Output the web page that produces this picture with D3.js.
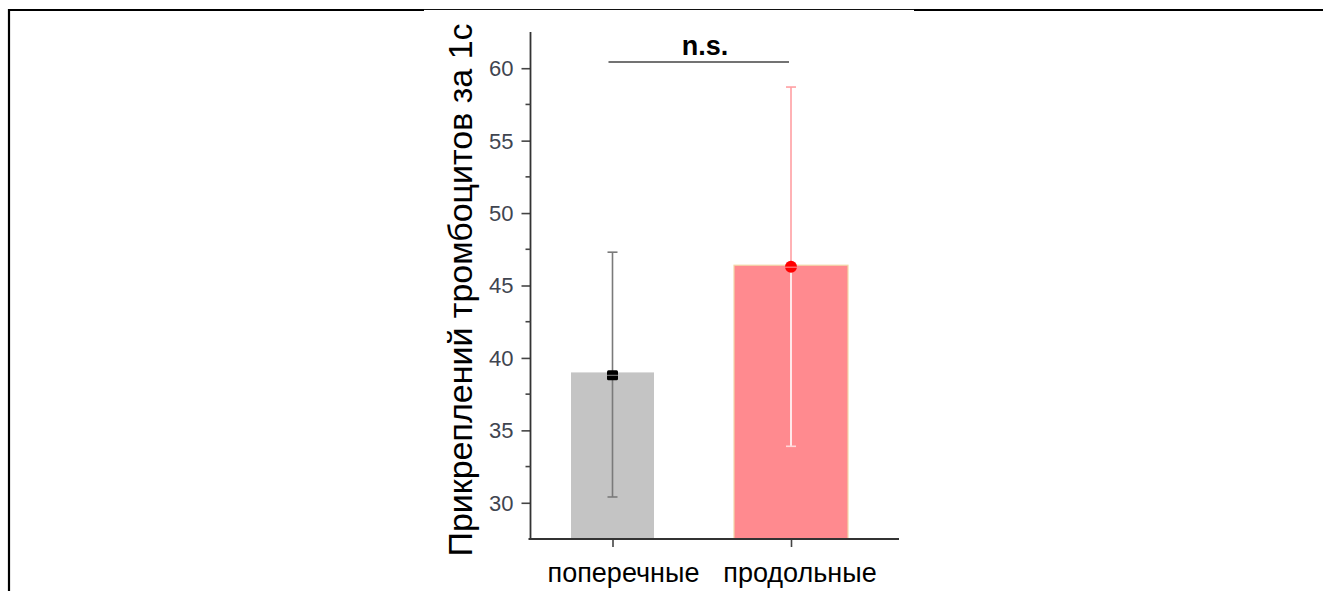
<!DOCTYPE html>
<html><head><meta charset="utf-8">
<script src="https://cdn.jsdelivr.net/npm/d3@7"></script>
<style>body{margin:0;background:#fff}svg{display:block}</style>
</head><body>
<svg id="c" width="1323" height="591"></svg>
<script>
const categories = ["поперечные", "продольные"];
const means = [39.0, 46.4];
const markerValues = [38.8, 46.3];
const errHigh = [47.3, 58.7];
const errLow = [30.4, 33.9];
const yTicks = [30, 35, 40, 45, 50, 55, 60];
const yLabel = "Прикреплений тромбоцитов за 1с";
const sigLabel = "n.s.";

const svg = d3.select("#c");
const font = "Liberation Sans, Arial, sans-serif";

// frame
svg.append("line").attr("x1", 8).attr("x2", 424).attr("y1", 10).attr("y2", 10).attr("stroke", "#000").attr("stroke-width", 2.2);
svg.append("line").attr("x1", 424).attr("x2", 914).attr("y1", 9.5).attr("y2", 9.5).attr("stroke", "#111").attr("stroke-width", 1);
svg.append("line").attr("x1", 914).attr("x2", 1323).attr("y1", 10).attr("y2", 10).attr("stroke", "#000").attr("stroke-width", 2.2);
svg.append("line").attr("x1", 9).attr("x2", 9).attr("y1", 9).attr("y2", 591).attr("stroke", "#000").attr("stroke-width", 2.2);

const y = d3.scaleLinear().domain([27.5, 62.5]).range([539, 32]);
const x = d3.scalePoint().domain(categories).range([612.5, 791]);
const barW = [83, 114];
const fills = ["#c4c4c4", "#ff8a8f"];
const errColors = ["#7a7a7a", "#ff9fa3"];

const axisX = 530.5;
// y axis
const yAxis = d3.axisLeft(y).tickValues(yTicks).tickSize(9).tickPadding(8).tickFormat(d3.format("d"));
const gy = svg.append("g").attr("transform", `translate(${axisX},0)`).call(yAxis);
gy.select(".domain").remove();
gy.append("line").attr("x1", 0).attr("x2", 0).attr("y1", y(62.5)).attr("y2", y(27.5)).attr("stroke", "#333").attr("stroke-width", 1.8);
gy.selectAll(".tick line").attr("stroke", "#444").attr("stroke-width", 1.6);
gy.selectAll(".tick text").attr("font-family", font).attr("font-size", 22).attr("fill", "#3f4550").attr("dy", "0.34em");
// minor ticks
const minor = d3.range(32.5, 62.5, 5);
gy.selectAll(".minor").data(minor).enter().append("line")
  .attr("x1", -5).attr("x2", 0).attr("y1", d => y(d)).attr("y2", d => y(d))
  .attr("stroke", "#444").attr("stroke-width", 1.6);

// bars
categories.forEach((c, i) => {
  svg.append("rect").attr("x", x(c) - barW[i] / 2).attr("width", barW[i])
    .attr("y", y(means[i])).attr("height", y(27.5) - y(means[i]))
    .attr("fill", fills[i])
    .attr("stroke", i === 1 ? "#f3d7a8" : "none").attr("stroke-width", 1.2);
});

// error bars
categories.forEach((c, i) => {
  const cx = x(c);
  const col = errColors[i];
  const innerCol = i === 1 ? "#ffffff" : col;
  svg.append("line").attr("x1", cx).attr("x2", cx).attr("y1", y(errHigh[i])).attr("y2", y(means[i])).attr("stroke", col).attr("stroke-width", 1.6);
  svg.append("line").attr("x1", cx).attr("x2", cx).attr("y1", y(means[i])).attr("y2", y(errLow[i])).attr("stroke", innerCol).attr("stroke-width", 1.6);
  svg.append("line").attr("x1", cx - 5).attr("x2", cx + 5).attr("y1", y(errHigh[i])).attr("y2", y(errHigh[i])).attr("stroke", col).attr("stroke-width", 1.6);
  svg.append("line").attr("x1", cx - 5).attr("x2", cx + 5).attr("y1", y(errLow[i])).attr("y2", y(errLow[i])).attr("stroke", i === 1 ? "#ffd6d8" : col).attr("stroke-width", 1.6);
});

// markers
{
  const cx = x(categories[0]), cy = y(markerValues[0]);
  svg.append("rect").attr("x", cx - 5.5).attr("y", cy - 5).attr("width", 11).attr("height", 10).attr("rx", 1.5).attr("fill", "#000");
  svg.append("line").attr("x1", cx - 5.5).attr("x2", cx + 5.5).attr("y1", cy).attr("y2", cy).attr("stroke", "#888").attr("stroke-width", 1);
}
{
  const cx = x(categories[1]), cy = y(markerValues[1]);
  svg.append("circle").attr("cx", cx).attr("cy", cy).attr("r", 6).attr("fill", "#ff0000");
  svg.append("line").attr("x1", cx - 6).attr("x2", cx + 6).attr("y1", cy + 0.5).attr("y2", cy + 0.5).attr("stroke", "#ff9a9a").attr("stroke-width", 1);
}

// x axis
const xAxis = d3.axisBottom(x).tickSize(8).tickFormat("");
const gx = svg.append("g").attr("transform", `translate(0,${y(27.5)})`).call(xAxis);
gx.select(".domain").remove();
gx.append("line").attr("x1", axisX - 2).attr("x2", 899).attr("y1", 0).attr("y2", 0).attr("stroke", "#333").attr("stroke-width", 1.8);
gx.selectAll(".tick line").attr("stroke", "#444").attr("stroke-width", 1.6);
const labelOffsets = [11, 9];
categories.forEach((c, i) => {
  svg.append("text").attr("x", x(c) + labelOffsets[i]).attr("y", 582)
    .attr("text-anchor", "middle").attr("font-family", font).attr("font-size", 27).attr("fill", "#000").text(c);
});

// y label
svg.append("text").attr("transform", `translate(472,290) rotate(-90)`)
  .attr("text-anchor", "middle").attr("font-family", font).attr("font-size", 34).attr("fill", "#000").text(yLabel);

// significance
svg.append("line").attr("x1", x(categories[0]) - 4).attr("x2", x(categories[1]) - 2).attr("y1", 62).attr("y2", 62).attr("stroke", "#444").attr("stroke-width", 1.6);
svg.append("text").attr("x", 705).attr("y", 55).attr("text-anchor", "middle").attr("font-family", font).attr("font-weight", "bold").attr("font-size", 27).attr("fill", "#000").text(sigLabel);
</script>
</body></html>
